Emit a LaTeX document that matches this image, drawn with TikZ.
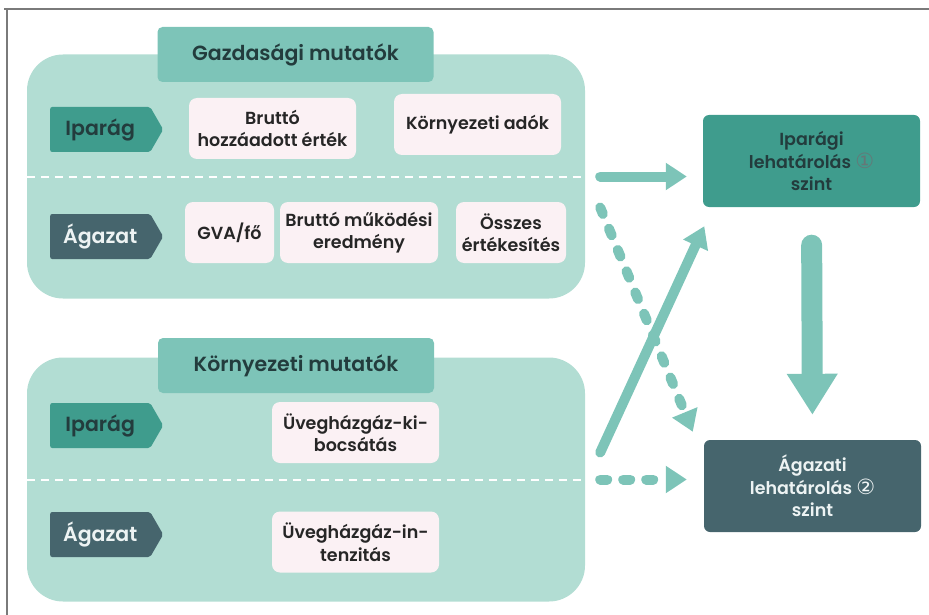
\documentclass[tikz,border=0pt]{standalone}
\usepackage{fontspec}
\setmainfont{Poppins}[BoldFont={* SemiBold}]
\newfontfamily\circfont{DejaVu Sans}
\usetikzlibrary{arrows.meta, shapes.symbols}
\definecolor{panelfill}{HTML}{B2DDD3}
\definecolor{headfill}{HTML}{7DC4B8}
\definecolor{iparfill}{HTML}{3F9C8D}
\definecolor{agazatfill}{HTML}{46656D}
\definecolor{itemfill}{HTML}{FBF1F4}
\definecolor{arrowcol}{HTML}{7DC4B8}
\definecolor{darktext}{HTML}{233C3D}
\definecolor{lighttext}{HTML}{EDF3F3}
\definecolor{framegray}{HTML}{7A7A7A}
\tikzset{
  panel/.style={
    rectangle,
    fill=panelfill,
    rounded corners=36pt,
    minimum width=558pt,
    minimum height=244pt
  },
  header/.style={
    rectangle,
    fill=headfill,
    rounded corners=5pt,
    text=darktext,
    minimum width=276pt,
    minimum height=55pt,
    font=\fontsize{20.5}{24}\selectfont\bfseries
  },
  tag/.style={
    signal,
    signal to=east,
    signal pointer angle=120,
    rounded corners=2pt,
    inner sep=0pt,
    minimum width=113pt,
    minimum height=45pt,
    anchor=west,
    font=\fontsize{20.5}{24}\selectfont\bfseries
  },
  item/.style={
    rectangle,
    fill=itemfill,
    rounded corners=8pt,
    text=black!85,
    align=center,
    inner sep=2pt,
    minimum height=61pt,
    font=\fontsize{17.5}{22.5}\selectfont\bfseries
  },
  level/.style={
    rectangle,
    rounded corners=6pt,
    align=center,
    minimum width=217pt,
    minimum height=92pt,
    font=\fontsize{17.5}{22.5}\selectfont\bfseries
  },
  divider/.style={
    white,
    line width=2pt,
    dash pattern=on 8pt off 6pt
  },
  flow/.style={
    arrowcol,
    line width=10pt,
    line cap=round,
    -{Triangle[length=21pt,width=26pt]}
  },
  dashflow/.style={
    flow,
    dash pattern=on 7pt off 16pt
  },
  bigflow/.style={
    arrowcol,
    line width=21pt,
    line cap=round,
    -{Triangle[length=41pt,width=48pt]}
  }
}
\newcommand{\circnum}[2]{{\circfont\mdseries\fontsize{21}{22}\selectfont\textcolor{#1}{#2}}}

\begin{document}
\begin{tikzpicture}[x=1pt, y=-1pt]
  \useasboundingbox (0,0) rectangle (929,615);
  \draw[framegray, line width=1.5pt] (4,9) -- (929,9);
  \draw[framegray, line width=1.5pt] (7,9) -- (7,615);

  \node[panel] (econ) at (306,176.5) {};
  \node[header] (econhead) at (295.5,54.5) {Gazdasági mutatók};
  \draw[divider] (econ.west) -- (econ.east);

  \node[tag, fill=iparfill, text=darktext] (econipar) at (50,129.5) {Iparág};
  \node[tag, fill=agazatfill, text=lighttext] (econagazat) at (50,236.5) {Ágazat};

  \node[item, minimum width=167pt] (bhe) at (272.5,128.5) {Bruttó\\hozzáadott érték};
  \node[item, minimum width=167pt] (kadok) at (477.5,124.5) {Környezeti adók};
  \node[item, minimum width=89pt] (gvafo) at (229.5,232.5) {GVA/fő};
  \node[item, minimum width=158pt] (bme) at (359,232.5) {Bruttó működési\\eredmény};
  \node[item, minimum width=110pt] (oert) at (511,232.5) {Összes\\értékesítés};

  \node[panel] (env) at (306,479.5) {};
  \node[header] (envhead) at (296,365.5) {Környezeti mutatók};
  \draw[divider] (env.west) -- (env.east);

  \node[tag, fill=iparfill, text=darktext] (envipar) at (50,425.5) {Iparág};
  \node[tag, fill=agazatfill, text=lighttext] (envagazat) at (50,534.5) {Ágazat};

  \node[item, minimum width=167pt] (ghgki) at (355.5,432.5) {Üvegházgáz-ki-\\bocsátás};
  \node[item, minimum width=167pt] (ghgint) at (355.5,542) {Üvegházgáz-in-\\tenzitás};

  \node[level, fill=iparfill, text=darktext] (iparlevel) at (811.5,161)
    {Iparági\\lehatárolás \circnum{darktext!70}{①}\\szint};
  \node[level, fill=agazatfill, text=lighttext] (agazatlevel) at (812.5,486)
    {Ágazati\\lehatárolás \circnum{lighttext!85}{②}\\szint};

  \draw[flow, shorten <=15pt, shorten >=16pt] (econ.east) -- (econ.east -| iparlevel.west);
  \draw[dashflow, shorten <=15pt, shorten >=17pt] (env.east) -- (env.east -| agazatlevel.west);
  \draw[dashflow] ([shift={(15,31)}]econ.east) -- ([shift={(-11,-8)}]agazatlevel.north west);
  \draw[flow] ([shift={(15,-27)}]env.east) -- ([shift={(1.5,19)}]iparlevel.south west);
  \draw[bigflow, shorten <=38pt, shorten >=25pt] (iparlevel.south) -- (agazatlevel.north);
\end{tikzpicture}
\end{document}
